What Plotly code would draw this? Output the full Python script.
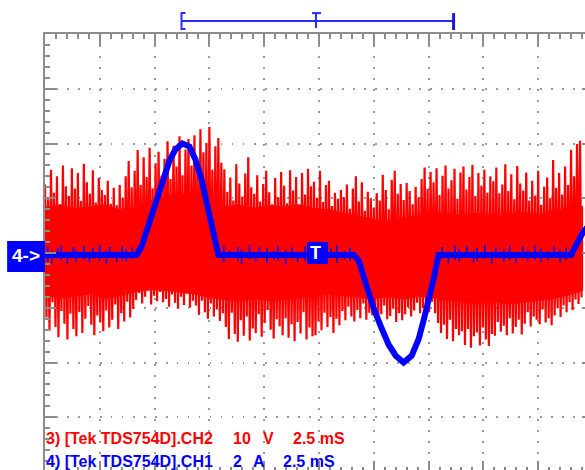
import plotly.graph_objects as go

# ---------------- data ----------------
TIME_PER_DIV = 2.5      # ms / div
VOLT_PER_DIV = 10       # CH2 (red)  V / div
AMP_PER_DIV = 2         # CH1 (blue) A / div

# red trace (CH2, volts): alternating crest / trough samples, one pair every red_step ms
red_step = 0.13636
red_top = [
    12.5, 9.8, 15.2, 11.0, 14.0, 8.9, 16.0, 12.2, 10.4, 15.5,
    11.8, 14.6, 9.5, 16.3, 12.9, 10.8, 15.1, 9.2, 13.7, 11.5,
    10.6, 13.2, 9.0, 11.9, 8.7, 12.4, 10.1, 14.0, 16.8, 12.0,
    15.0, 18.8, 12.4, 17.5, 13.9, 19.2, 11.8, 16.4, 18.5, 14.1,
    17.2, 20.4, 13.5, 19.6, 15.8, 21.3, 14.2, 18.9, 20.8, 16.0,
    21.5, 16.9, 22.6, 18.4, 20.1, 23.0, 15.2, 19.5, 21.0, 16.5,
    15.3, 11.2, 13.8, 9.6, 16.2, 12.7, 10.3, 14.5, 17.5, 12.0,
    10.8, 14.2, 9.4, 12.6, 15.0, 11.1, 8.9, 13.7, 10.2, 14.8,
    12.3, 9.1, 15.1, 11.4, 13.9, 8.8, 14.6, 10.7, 15.4, 12.2,
    13.0, 10.1, 15.0, 9.3, 12.4, 13.2, 8.6, 11.0, 9.9, 11.5,
    10.2, 12.5, 8.1, 11.8, 14.0, 9.4, 12.9, 7.7, 11.2, 10.0,
    8.3, 10.9, 9.6, 14.3, 11.5, 8.0, 13.4, 15.0, 10.8, 12.6,
    9.7, 12.8, 11.3, 8.9, 12.1, 10.2, 13.5, 15.6, 11.7, 14.8,
    12.9, 15.5, 10.6, 14.1, 16.0, 11.8, 13.3, 15.4, 9.9, 14.7,
    15.8, 11.6, 13.9, 16.1, 10.4, 14.6, 12.3, 15.2, 11.0, 14.0,
    13.1, 15.6, 10.9, 12.5, 16.2, 11.3, 14.4, 9.8, 15.9, 12.7,
    11.4, 14.7, 9.6, 13.2, 10.5, 15.0, 8.8, 12.1, 13.8, 10.0,
    17.0, 11.9, 14.6, 10.7, 15.8, 12.4, 18.8, 14.0, 19.9, 20.5,
]
red_bottom = [
    -11.8, -14.2, -9.0, -13.5, -15.4, -10.6, -12.9, -15.8, -11.1, -13.9,
    -15.2, -10.8, -14.6, -12.0, -9.7, -13.1, -15.0, -11.4, -12.7, -14.3,
    -10.5, -13.6, -12.2, -9.4, -13.9, -11.0, -12.5, -8.9, -11.8, -10.2,
    -8.6, -7.3, -9.2, -8.0, -6.9, -9.4, -7.8, -8.8, -7.1, -9.0,
    -8.4, -9.8, -7.6, -9.1, -10.2, -8.0, -9.5, -7.4, -10.0, -8.7,
    -9.6, -11.3, -8.7, -10.8, -12.0, -9.2, -11.6, -10.3, -12.4, -11.0,
    -13.5, -15.7, -10.9, -14.8, -16.2, -12.3, -15.1, -11.6, -16.0, -13.8,
    -14.6, -11.2, -15.3, -12.8, -10.4, -14.0, -15.6, -12.1, -13.4, -15.0,
    -11.9, -15.5, -13.0, -16.1, -12.6, -14.7, -10.8, -15.8, -13.6, -15.2,
    -15.0, -12.4, -14.1, -10.9, -13.5, -11.7, -14.6, -12.0, -13.2, -10.6,
    -12.3, -9.8, -11.6, -12.5, -10.4, -11.9, -9.2, -12.2, -10.9, -11.4,
    -10.7, -12.4, -11.2, -9.6, -12.1, -11.5, -10.2, -12.6, -11.0, -12.3,
    -11.2, -9.9, -11.6, -10.5, -9.1, -11.0, -10.1, -9.5, -10.8, -8.9,
    -11.0, -12.8, -14.6, -13.1, -15.7, -12.2, -16.1, -13.9, -15.0, -14.3,
    -16.8, -13.9, -17.3, -15.2, -14.5, -16.9, -13.6, -15.8, -17.0, -14.8,
    -15.1, -12.6, -14.4, -13.3, -15.0, -11.9, -14.7, -13.5, -12.2, -14.9,
    -12.9, -10.8, -13.4, -11.6, -12.2, -13.0, -10.3, -12.7, -11.9, -13.2,
    -11.4, -10.1, -11.7, -9.6, -10.8, -9.0, -10.4, -8.5, -9.3, -8.1,
]
# dense (solid) part of the red trace, one value per 0.68 ms
red_core_t = [0.0, 0.68, 1.36, 2.05, 2.73, 3.41, 4.09, 4.77, 5.45, 6.14, 6.82, 7.50, 8.18,
              8.86, 9.55, 10.23, 10.91, 11.59, 12.27, 12.95, 13.64, 14.32, 15.00, 15.68,
              16.36, 17.05, 17.73, 18.41, 19.09, 19.77, 20.45, 21.14, 21.82, 22.50,
              23.18, 23.86, 24.55]
red_core_hi = [8.5, 8.8, 8.2, 8.6, 8.9, 8.0, 8.4, 9.6, 10.2, 10.8, 10.5, 9.4, 8.6,
               8.8, 8.3, 8.7, 8.5, 8.9, 8.2, 8.0, 7.4, 6.8, 6.2, 5.9, 6.4, 7.0,
               7.6, 7.2, 7.0, 7.4, 6.9, 7.2, 7.5, 7.1, 7.8, 8.2, 8.6]
red_core_lo = [-7.8, -8.3, -8.0, -7.5, -8.4, -7.9, -7.2, -6.8, -6.9, -7.3, -7.6, -8.2, -8.6,
               -8.9, -8.4, -8.8, -8.6, -8.3, -8.0, -7.6, -7.9, -8.2, -8.4, -8.1, -8.5, -8.0,
               -8.3, -8.8, -9.1, -9.3, -9.0, -9.4, -9.1, -8.7, -8.4, -7.8, -6.9]

# blue trace (CH1, amps)
blue_t = [0.0, 4.18, 4.41, 4.68, 5.00, 5.36, 5.68, 5.95, 6.27, 6.59, 6.86, 7.14, 7.36,
          7.59, 7.77, 7.91, 14.09, 14.32, 14.64, 15.00, 15.36, 15.68, 16.00, 16.36,
          16.73, 17.05, 17.27, 17.50, 17.73, 17.95, 24.00, 24.23, 24.55, 25.0]
blue_i = [-0.07, -0.07, 0.25, 0.95, 1.78, 2.69, 3.38, 3.78, 4.00, 3.89, 3.42, 2.69, 1.96,
          1.16, 0.51, -0.07, -0.07, -0.29, -1.13, -2.04, -2.76, -3.35, -3.75, -4.00,
          -3.75, -3.13, -2.47, -1.78, -0.95, -0.07, -0.07, 0.29, 0.76, 1.2]
# noise spikes riding on the blue trace (time ms, high A, low A)
blue_spike_t = [0.12, 0.31, 0.58, 0.74, 1.02, 1.29, 1.41, 1.77, 2.03, 2.18, 2.49, 2.80, 2.95,
                3.27, 3.52, 3.69, 3.98,
                8.15, 8.42, 8.80, 8.97, 9.33, 9.61, 9.78, 10.12, 10.45, 10.63, 10.98, 11.26,
                11.52, 11.87, 13.05, 13.31, 13.66, 13.92,
                18.12, 18.40, 18.71, 18.90, 19.24, 19.55, 19.71, 20.06, 20.38, 20.57, 20.93,
                21.20, 21.48, 21.79, 22.02, 22.36, 22.61, 22.95, 23.22, 23.50, 23.78]
blue_spike_hi = [0.24, 0.08, 0.18, 0.28, 0.05, 0.21, 0.12, 0.26, 0.02, 0.19, 0.30, 0.10, 0.22,
                 0.06, 0.25, 0.15, 0.20,
                 0.27, 0.09, 0.21, 0.14, 0.29, 0.04, 0.23, 0.17, 0.07, 0.26, 0.12, 0.20,
                 0.03, 0.24, 0.16, 0.28, 0.08, 0.19,
                 0.22, 0.06, 0.27, 0.13, 0.25, 0.09, 0.18, 0.30, 0.05, 0.21, 0.15,
                 0.26, 0.04, 0.23, 0.11, 0.28, 0.17, 0.07, 0.24, 0.14, 0.20]
blue_spike_lo = [-0.30, -0.38, -0.20, -0.27, -0.41, -0.18, -0.33, -0.24, -0.36, -0.21, -0.29,
                 -0.39, -0.17, -0.34, -0.26, -0.31, -0.22,
                 -0.35, -0.19, -0.28, -0.40, -0.23, -0.32, -0.16, -0.37, -0.25, -0.30, -0.42,
                 -0.20, -0.33, -0.27, -0.18, -0.36, -0.24, -0.29,
                 -0.21, -0.38, -0.26, -0.31, -0.17, -0.35, -0.28, -0.22, -0.40, -0.19, -0.33,
                 -0.25, -0.37, -0.20, -0.30, -0.23, -0.34, -0.27, -0.18, -0.36, -0.26]

ch_labels = [
    ("3) [Tek TDS754D].CH2", "10", "V", "2.5 mS"),
    ("4) [Tek TDS754D].CH1", "2", "A", "2.5 mS"),
]
trigger_t = 12.36
record_start, record_end = 6.23, 18.64

# ---------------- figure ----------------
# graticule: 10 x 8 div of 55 px at page px 45..595 x 34..474 (window clips at 585 x 470)
PL, PT, PW, PH = 45, 34, 550, 440
W, H = PL + PW + 10, PT + PH + 10

RED = "#ff0000"
BLUE = "#0000ff"
AXC = "#8c8c8c"


def px_x(px):
    return (px - PL) / PW


def px_y(py):
    return (PT + PH - py) / PH


rx, ry = [], []
for i, (a, b) in enumerate(zip(red_top, red_bottom)):
    t = i * red_step
    rx += [t, t + red_step / 2]
    ry += [a, b]

bx, by = [], []
for t, hi, lo in zip(blue_spike_t, blue_spike_hi, blue_spike_lo):
    bx += [t, t, None]
    by += [hi, lo, None]

fig = go.Figure()
fig.add_trace(go.Scatter(x=red_core_t, y=red_core_lo, mode="lines", line=dict(color=RED, width=0),
                         hoverinfo="skip", showlegend=False))
fig.add_trace(go.Scatter(x=red_core_t, y=red_core_hi, mode="lines", line=dict(color=RED, width=0),
                         fill="tonexty", fillcolor=RED, hoverinfo="skip", showlegend=False))
fig.add_trace(go.Scatter(x=rx, y=ry, mode="lines", line=dict(color=RED, width=2.2),
                         hoverinfo="skip", showlegend=False))
fig.add_trace(go.Scatter(x=blue_t, y=blue_i, yaxis="y2", mode="lines",
                         line=dict(color=BLUE, width=6), hoverinfo="skip", showlegend=False))
fig.add_trace(go.Scatter(x=bx, y=by, yaxis="y2", mode="lines",
                         line=dict(color=BLUE, width=1.6), hoverinfo="skip", showlegend=False))

grid = dict(showgrid=True, gridcolor="#9a9a9a", gridwidth=1.5, griddash="1.5px,9.5px")

fig.update_layout(
    width=W, height=H, margin=dict(l=PL, r=10, t=PT, b=10),
    paper_bgcolor="white", plot_bgcolor="white",
    xaxis=dict(range=[0, 10 * TIME_PER_DIV], side="top", tick0=0, dtick=TIME_PER_DIV,
               ticks="inside", ticklen=11, tickwidth=2, tickcolor=AXC,
               showline=True, linecolor=AXC, linewidth=2, mirror="ticks",
               showticklabels=False, zeroline=False,
               minor=dict(ticks="inside", ticklen=5, tickwidth=1.5, tickcolor=AXC,
                          dtick=TIME_PER_DIV / 5, showgrid=False),
               **grid),
    yaxis=dict(range=[-4 * VOLT_PER_DIV, 4 * VOLT_PER_DIV], tick0=0,
               dtick=VOLT_PER_DIV, ticks="inside", ticklen=11, tickwidth=2, tickcolor=AXC,
               showline=True, linecolor=AXC, linewidth=2, mirror="ticks",
               showticklabels=False, zeroline=False,
               minor=dict(ticks="inside", ticklen=5, tickwidth=1.5, tickcolor=AXC,
                          dtick=VOLT_PER_DIV / 5, showgrid=False),
               **grid),
    yaxis2=dict(range=[-4 * AMP_PER_DIV, 4 * AMP_PER_DIV], overlaying="y",
                showgrid=False, zeroline=False, showticklabels=False, ticks="", showline=False),
)

font_lbl = dict(family="Liberation Sans, Arial, sans-serif", size=16, weight="bold")
col_px = [[45, 233, 263, 293], [45, 233, 253, 283]]
row_py = [440, 463]
for (parts, xs_, py, col) in zip(ch_labels, col_px, row_py, [RED, BLUE]):
    for txt, px in zip(parts, xs_):
        fig.add_annotation(x=px_x(px), y=px_y(py), xref="paper", yref="paper", text=txt,
                           showarrow=False, xanchor="left", yanchor="middle",
                           font=dict(color=col, **font_lbl), borderpad=0)

# channel 4 ground marker
fig.add_shape(type="rect", xref="paper", yref="paper", x0=px_x(7), x1=px_x(45),
              y0=px_y(273), y1=px_y(242), fillcolor=BLUE, line=dict(width=0))
fig.add_annotation(x=px_x(26), y=px_y(257), xref="paper", yref="paper", text="4->",
                   showarrow=False, xanchor="center", yanchor="middle",
                   font=dict(color="white", size=19, weight="bold",
                             family="Liberation Sans, Arial, sans-serif"))
# trigger marker
fig.add_shape(type="rect", xref="paper", yref="paper", x0=px_x(308), x1=px_x(329),
              y0=px_y(265), y1=px_y(243), fillcolor=BLUE, line=dict(width=0))
fig.add_annotation(x=trigger_t, y=px_y(254), xref="x", yref="paper", text="T",
                   showarrow=False, xanchor="center", yanchor="middle",
                   font=dict(color="white", size=18, weight="bold",
                             family="Liberation Sans, Arial, sans-serif"))

# record-window indicator above the graticule
IND = "#2a2aff"
yl = px_y(21)
ytop, ybot = px_y(13), px_y(29)
fig.add_shape(type="line", xref="x", yref="paper", x0=record_start, x1=record_end, y0=yl, y1=yl,
              line=dict(color=IND, width=2))
fig.add_shape(type="path", xref="paper", yref="paper",
              path=f"M {px_x(186)},{ytop} L {px_x(182)},{ytop} L {px_x(182)},{ybot} L {px_x(186)},{ybot}",
              line=dict(color=IND, width=2))
fig.add_shape(type="line", xref="x", yref="paper", x0=trigger_t, x1=trigger_t, y0=ytop, y1=px_y(28),
              line=dict(color=IND, width=2))
fig.add_shape(type="line", xref="paper", yref="paper", x0=px_x(313), x1=px_x(322), y0=ytop, y1=ytop,
              line=dict(color=IND, width=2))
fig.add_shape(type="line", xref="x", yref="paper", x0=record_end, x1=record_end, y0=ytop, y1=px_y(30),
              line=dict(color="#1a1acc", width=3))

fig.write_html(
    "out.html",
    config={"displayModeBar": False},
    post_script=("document.body.style.margin='0';"
                 "document.body.style.overflow='hidden';"
                 "document.documentElement.style.overflow='hidden';"),
)
